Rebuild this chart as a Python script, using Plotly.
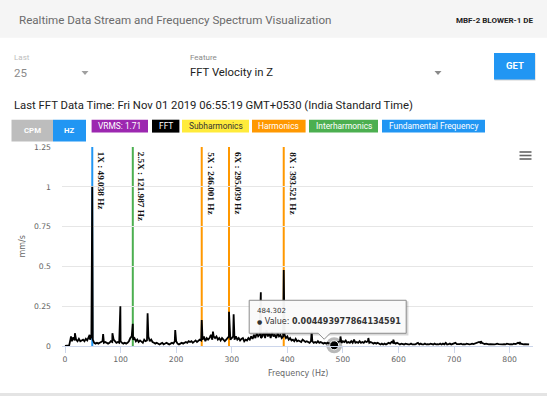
import plotly.graph_objects as go

# ---------------- data ----------------
# Background spectrum on a 2.5 Hz grid (mm/s), 0 .. 835 Hz
NOISE_START = 0.0
NOISE_STEP = 2.5
NOISE_AMP = [
    0, 0, 0, 0.004, 0.045, 0.03, 0.055, 0.035, 0.04, 0.03, 0.045, 0.03, 0.035, 0.04, 0.03, 0.045, 0.035, 0.05, 0.04, 0.06,
    0.04, 0.02, 0.015, 0.02, 0.015, 0.02, 0.025, 0.03, 0.02, 0.025, 0.02, 0.015, 0.02, 0.03, 0.025, 0.04, 0.03, 0.02, 0.025, 0.02,
    0.03, 0.02, 0.015, 0.02, 0.015, 0.02, 0.03, 0.05, 0.06, 0.04, 0.05, 0.03, 0.04, 0.025, 0.035, 0.03, 0.02, 0.04, 0.03, 0.035,
    0.06, 0.03, 0.04, 0.025, 0.02, 0.015, 0.02, 0.015, 0.01, 0.015, 0.02, 0.01, 0.015, 0.02, 0.015, 0.01, 0.015, 0.02, 0.015, 0.03,
    0.03, 0.015, 0.01, 0.015, 0.02, 0.015, 0.02, 0.025, 0.02, 0.03, 0.025, 0.03, 0.02, 0.03, 0.035, 0.025, 0.03, 0.04, 0.035, 0.04,
    0.06, 0.03, 0.05, 0.04, 0.05, 0.07, 0.04, 0.06, 0.05, 0.06, 0.04, 0.05, 0.035, 0.05, 0.04, 0.03, 0.04, 0.05, 0.06, 0.04,
    0.05, 0.06, 0.04, 0.06, 0.04, 0.05, 0.035, 0.045, 0.05, 0.03, 0.04, 0.035, 0.05, 0.04, 0.06, 0.045, 0.07, 0.05, 0.08, 0.06,
    0.07, 0.05, 0.06, 0.09, 0.05, 0.1, 0.06, 0.08, 0.05, 0.09, 0.06, 0.07, 0.05, 0.08, 0.06, 0.07, 0.05, 0.06, 0.07, 0.05,
    0.06, 0.04, 0.05, 0.035, 0.04, 0.03, 0.045, 0.03, 0.035, 0.03, 0.025, 0.04, 0.03, 0.025, 0.03, 0.025, 0.02, 0.03, 0.03, 0.02,
    0.025, 0.02, 0.03, 0.02, 0.025, 0.02, 0.015, 0.02, 0.015, 0.02, 0.015, 0.01, 0.01, 0.005, 0.015, 0.02, 0.02, 0.025, 0.03, 0.02,
    0.03, 0.025, 0.035, 0.02, 0.025, 0.02, 0.03, 0.02, 0.04, 0.02, 0.025, 0.02, 0.03, 0.02, 0.025, 0.02, 0.03, 0.025, 0.03, 0.02,
    0.025, 0.02, 0.015, 0.02, 0.015, 0.02, 0.015, 0.01, 0.015, 0.01, 0.015, 0.01, 0.015, 0.02, 0.015, 0.025, 0.02, 0.02, 0.015, 0.02,
    0.015, 0.01, 0.015, 0.01, 0.01, 0.015, 0.01, 0.01, 0.01, 0.015, 0.01, 0.01, 0.01, 0.015, 0.02, 0.01, 0.015, 0.01, 0.01, 0.015,
    0.01, 0.012, 0.01, 0.015, 0.01, 0.01, 0.015, 0.01, 0.012, 0.01, 0.015, 0.01, 0.015, 0.01, 0.02, 0.01, 0.012, 0.015, 0.01, 0.012,
    0.015, 0.02, 0.012, 0.01, 0.012, 0.015, 0.01, 0.012, 0.01, 0.015, 0.012, 0.01, 0.012, 0.015, 0.012, 0.015, 0.015, 0.02, 0.025, 0.02,
    0.02, 0.015, 0.012, 0.015, 0.012, 0.01, 0.012, 0.01, 0.012, 0.01, 0.012, 0.015, 0.012, 0.01, 0.012, 0.01, 0.012, 0.01, 0.015, 0.012,
    0.01, 0.012, 0.01, 0.015, 0.012, 0.015, 0.02, 0.015, 0.015, 0.012, 0.01, 0.012, 0.01, 0.01, 0.01,
]

# Distinct spectral peaks (Hz, mm/s)
PEAK_FREQ = [10.8, 17.8, 44.3, 49.038, 68.6, 85.3, 99.6, 121.987, 148.6, 198.3, 246.001, 266.2,
             295.039, 303.4, 352.3, 393.521, 443.8, 495.6, 545.8, 590.8, 748.3, 817.8]
PEAK_AMP = [0.06, 0.08, 0.07, 1.0, 0.075, 0.08, 0.25, 0.14, 0.205, 0.1, 0.163, 0.09,
            0.215, 0.2, 0.337, 0.478, 0.09, 0.06, 0.05, 0.04, 0.03, 0.025]

# Marked frequencies (plot lines)
MARK_FREQ = [49.038, 121.987, 246.001, 295.039, 393.521]
MARK_NAME = ["1X", "2.5X", "5X", "6X", "8X"]
MARK_KIND = ["fundamental", "interharmonic", "harmonic", "harmonic", "harmonic"]

# Hovered point shown in the tooltip
HOVER_FREQ = 484.302
HOVER_VALUE = 0.004493977864134591

X_TICKS = [0, 100, 200, 300, 400, 500, 600, 700, 800]
Y_TICKS = [0, 0.25, 0.5, 0.75, 1, 1.25]

VRMS = 1.71
TIMESTAMP = "Fri Nov 01 2019 06:55:19 GMT+0530 (India Standard Time)"

# ---------------- styles ----------------
KIND_COLOR = {"fundamental": "#2196f3", "interharmonic": "#4caf50", "harmonic": "#ff9800"}
W, H = 547, 396
PL, PR, PT, PB = 62, 533, 147, 346   # plot box in pixels
AXF = "DejaVu Sans"
UIF = "Roboto"


def px(x):
    return (x - PL) / (PR - PL)


def py(y):
    return (PB - y) / (PB - PT)


grid = [NOISE_START + i * NOISE_STEP for i in range(len(NOISE_AMP))]
pts = sorted(zip(grid + PEAK_FREQ, NOISE_AMP + PEAK_AMP))
spec_x = [p[0] for p in pts]
spec_y = [p[1] for p in pts]

fig = go.Figure()
fig.add_trace(go.Scatter(x=spec_x, y=spec_y, mode="lines",
                         line=dict(color="#000000", width=1.8), hoverinfo="skip"))
fig.add_trace(go.Scatter(x=[HOVER_FREQ], y=[HOVER_VALUE], mode="markers", cliponaxis=False,
                         marker=dict(size=16, color="rgba(0,0,0,0.28)"), hoverinfo="skip"))
fig.add_trace(go.Scatter(x=[HOVER_FREQ], y=[HOVER_VALUE], mode="markers", cliponaxis=False,
                         marker=dict(size=9, color="#000000", line=dict(color="#ffffff", width=1)),
                         hoverinfo="skip"))

shapes = []
annotations = []


def rect(x0, y0, x1, y1, fill, layer="below"):
    shapes.append(dict(type="rect", xref="paper", yref="paper", x0=px(x0), x1=px(x1),
                       y0=py(y0), y1=py(y1), fillcolor=fill, line=dict(width=0), layer=layer))


def text(x, y, s, size, color, anchor="left", family=UIF):
    annotations.append(dict(xref="paper", yref="paper", x=px(x), y=py(y), text=s, showarrow=False,
                            xanchor=anchor, yanchor="middle",
                            font=dict(family=family, size=size, color=color)))


def tri(cx, cy, color):
    path = "M {},{} L {},{} L {},{} Z".format(px(cx - 3.5), py(cy - 2), px(cx + 3.5), py(cy - 2), px(cx), py(cy + 2))
    shapes.append(dict(type="path", xref="paper", yref="paper", path=path,
                       fillcolor=color, line=dict(width=0)))


# page / card
rect(0, 0, W, 37.7, "#f5f5f5")
rect(0, 393, W, H, "#e4e4e4")
text(17.4, 20, "Realtime Data Stream and Frequency Spectrum Visualization", 11.6, "#6b6b6b")
text(535, 20, "<b>MBF-2 BLOWER-1 DE</b>", 8, "#222222", anchor="right")

# selectors
text(11.5, 57.6, "Last", 8, "#bdbdbd")
text(11.5, 73, "25", 11.5, "#8a8a8a")
tri(85, 73, "#a0a0a0")
text(188, 57.6, "Feature", 8, "#8a8a8a")
text(188, 73, "FFT Velocity in Z", 11.3, "#222222")
tri(438, 73, "#8a8a8a")
rect(494.5, 54, 535.5, 80.5, "rgba(0,0,0,0.18)")
rect(494, 53, 535, 79.5, "#2196f3")
text(514.5, 66, "<b>GET</b>", 9.5, "#ffffff", anchor="center")

text(11.5, 105.7, "Last FFT Data Time: " + TIMESTAMP, 11.3, "#222222")

# unit toggle
rect(11.5, 119.7, 53, 141.6, "#bdbdbd")
rect(53, 119.7, 86, 141.6, "#2196f3")
text(32.3, 130.6, "<b>CPM</b>", 7.8, "#ffffff", anchor="center")
text(69.5, 130.6, "<b>HZ</b>", 7.8, "#ffffff", anchor="center")

# legend chips
chips = [
    (91.6, 148, "#9c27b0", "#ffffff", "VRMS: {}".format(VRMS)),
    (152, 179.4, "#000000", "#ffffff", "FFT"),
    (182, 249, "#ffeb3b", "#333333", "Subharmonics"),
    (252, 305.6, "#ff9800", "#ffffff", "Harmonics"),
    (309, 378, "#4caf50", "#ffffff", "Interharmonics"),
    (382, 485, "#2196f3", "#ffffff", "Fundamental Frequency"),
]
for x0, x1, bg, fg, label in chips:
    rect(x0, 119.7, x1, 132.6, bg)
    text((x0 + x1) / 2, 126.2, label, 8.4, fg, anchor="center")

# hamburger
for yy in (152, 155.5, 159):
    shapes.append(dict(type="line", xref="paper", yref="paper", x0=px(519.5), x1=px(531.5),
                       y0=py(yy), y1=py(yy), line=dict(color="#666666", width=1.6)))

# plot lines + labels
for f, name, kind in zip(MARK_FREQ, MARK_NAME, MARK_KIND):
    shapes.append(dict(type="line", xref="x", yref="paper", x0=f, x1=f, y0=0, y1=1,
                       line=dict(color=KIND_COLOR[kind], width=2), layer="between"))
    annotations.append(dict(xref="x", yref="paper", x=f, y=1, xshift=2, yshift=-3,
                            text="<b>{} : {} Hz</b>".format(name, f), showarrow=False, textangle=90,
                            xanchor="left", yanchor="top",
                            font=dict(family="Liberation Serif", size=9.2, color="#111111")))

# tooltip callout (pixel offsets relative to hovered point)
callout = "M -85,12 L -16,12 L -10,6 L -4,12 L 72,12 L 72,45 L -85,45 Z"
shadow = "M -84,11 L 73,11 L 73,44"
shapes.append(dict(type="path", xref="x", yref="y", xsizemode="pixel", ysizemode="pixel",
                   xanchor=HOVER_FREQ, yanchor=HOVER_VALUE, path=shadow,
                   line=dict(color="rgba(0,0,0,0.15)", width=2.5), layer="above"))
shapes.append(dict(type="path", xref="x", yref="y", xsizemode="pixel", ysizemode="pixel",
                   xanchor=HOVER_FREQ, yanchor=HOVER_VALUE, path=callout,
                   fillcolor="rgba(250,250,250,0.96)", line=dict(color="#8c8c8c", width=1), layer="above"))
annotations.append(dict(xref="x", yref="y", x=HOVER_FREQ, y=HOVER_VALUE, xshift=-79, yshift=34,
                        text="{}".format(HOVER_FREQ), showarrow=False, xanchor="left", yanchor="middle",
                        font=dict(family=AXF, size=7, color="#333333")))
annotations.append(dict(xref="x", yref="y", x=HOVER_FREQ, y=HOVER_VALUE, xshift=-79, yshift=23.5,
                        text="<span style='font-size:6px'>\u25cf</span> Value: <b>{}</b>".format(HOVER_VALUE),
                        showarrow=False, xanchor="left", yanchor="middle",
                        font=dict(family=AXF, size=8, color="#333333")))

# axis titles
text(22, 246.5, "mm/s", 8, "#666666", anchor="center", family=AXF)
annotations[-1]["textangle"] = -90
text(297.5, 373, "Frequency (Hz)", 8, "#666666", anchor="center", family=AXF)

fig.update_layout(
    width=W, height=H, autosize=False,
    margin=dict(l=PL, r=W - PR, t=PT, b=H - PB, pad=0),
    paper_bgcolor="#ffffff", plot_bgcolor="#ffffff",
    showlegend=False, shapes=shapes, annotations=annotations,
    xaxis=dict(range=[-5.4, 842], tickvals=X_TICKS, showgrid=False, zeroline=False,
               showline=True, linecolor="#ccd6eb", linewidth=1,
               ticks="outside", ticklen=6, tickcolor="#ccd6eb",
               tickfont=dict(family=AXF, size=7.7, color="#666666")),
    yaxis=dict(range=[0, 1.25], tickvals=Y_TICKS, showgrid=True, gridcolor="#e6e6e6", gridwidth=1,
               zeroline=False, showline=False, ticks="", ticklabelstandoff=10,
               tickfont=dict(family=AXF, size=7.7, color="#666666")),
)

fig.write_html("out.html", config={"displayModeBar": False},
               post_script="document.body.style.margin='0';document.body.style.overflow='hidden';")
